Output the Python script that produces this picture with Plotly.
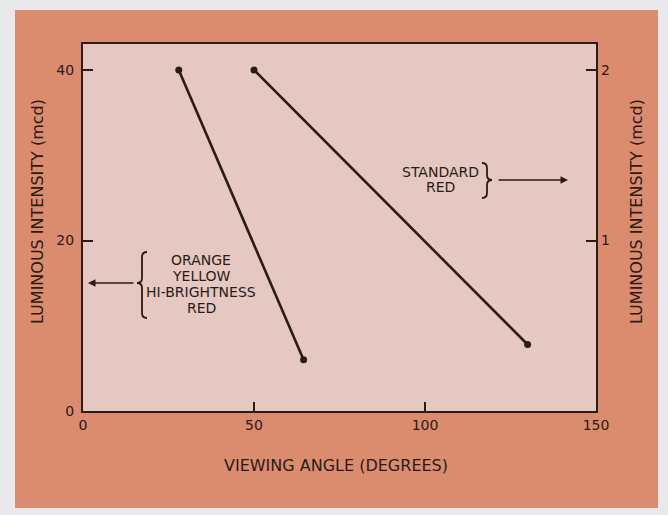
import plotly.graph_objects as go

# Viewing angle (degrees) against luminous intensity (mcd)
hb_angle = [28, 64.5]        # orange / yellow / hi-brightness red
hb_mcd = [40, 6]             # left axis
std_angle = [50, 130]        # standard red
std_mcd = [2.0, 0.39]        # right axis

x_ticks = [0, 50, 100, 150]
y_left_ticks = [0, 20, 40]
y_right_ticks = [1, 2]

hb_label = ["ORANGE", "YELLOW", "HI-BRIGHTNESS", "RED"]
std_label = ["STANDARD", "RED"]

INK = "#2a1b17"
ORANGE_BG = "#DB8C6F"
PANEL_BG = "#E6C8C2"
EDGE_BG = "#E9E9EB"
FONT = "DejaVu Sans"

W, H = 668, 515
L, R, T, B = 83, 72, 44, 104
PW, PH = W - L - R, H - T - B
X_MAX = 150
Y_MAX = 43.05
Y2_MAX = Y_MAX / 20.0


def paper(px, py):
    """Pixel position in the page -> paper coordinates."""
    return (px - L) / PW, (H - B - py) / PH


def brace_path(tip_x, tip_y, top_y, bot_y, width, facing):
    """Curly brace; facing=-1 points left '{', +1 points right '}'."""
    end_x = tip_x - facing * width
    body_x = tip_x - facing * width / 2.0
    r = 5
    pts = [
        ("M", [(end_x, top_y)]),
        ("Q", [(body_x, top_y), (body_x, top_y + r)]),
        ("L", [(body_x, tip_y - r)]),
        ("Q", [(body_x, tip_y), (tip_x, tip_y)]),
        ("Q", [(body_x, tip_y), (body_x, tip_y + r)]),
        ("L", [(body_x, bot_y - r)]),
        ("Q", [(body_x, bot_y), (end_x, bot_y)]),
    ]
    out = []
    for cmd, coords in pts:
        seg = " ".join("%.5f,%.5f" % paper(x, y) for x, y in coords)
        out.append(cmd + " " + seg)
    return " ".join(out)


fig = go.Figure()

fig.add_trace(go.Scatter(
    x=hb_angle, y=hb_mcd, mode="lines+markers",
    line=dict(color=INK, width=2.6),
    marker=dict(color=INK, size=7),
    showlegend=False, hoverinfo="skip",
))
fig.add_trace(go.Scatter(
    x=std_angle, y=std_mcd, mode="lines+markers", yaxis="y2",
    line=dict(color=INK, width=2.6),
    marker=dict(color=INK, size=7),
    showlegend=False, hoverinfo="skip",
))

ox0, oy0 = paper(15, 10)
ox1, oy1 = paper(658, 508)
shapes = [
    dict(type="rect", xref="paper", yref="paper", x0=ox0, x1=ox1, y0=oy1, y1=oy0,
         fillcolor=ORANGE_BG, line=dict(width=0), layer="below"),
    dict(type="rect", xref="paper", yref="paper", x0=0, x1=1, y0=0, y1=1,
         fillcolor=PANEL_BG, line=dict(width=0), layer="below"),
    dict(type="path", xref="paper", yref="paper",
         path=brace_path(137, 283, 252, 318, 10, -1),
         line=dict(color=INK, width=1.8)),
    dict(type="path", xref="paper", yref="paper",
         path=brace_path(492, 180, 163, 198, 10, 1),
         line=dict(color=INK, width=1.8)),
]

annotations = []
text_font = dict(family=FONT, size=14, color=INK)

# group labels inside the panel
for txt, py in zip(hb_label, [260, 276, 292, 308]):
    x, y = paper(201, py)
    annotations.append(dict(xref="paper", yref="paper", x=x, y=y, text=txt,
                            showarrow=False, font=text_font,
                            xanchor="center", yanchor="middle"))
for txt, py in zip(std_label, [172, 187]):
    x, y = paper(440, py)
    annotations.append(dict(xref="paper", yref="paper", x=x, y=y, text=txt,
                            showarrow=False, font=text_font,
                            xanchor="center", yanchor="middle"))

# arrows pointing to the axis each group is read from
hx, hy = paper(88, 283)
annotations.append(dict(xref="paper", yref="paper", x=hx, y=hy, text="",
                        showarrow=True, ax=47, ay=0, arrowhead=2, arrowsize=1,
                        arrowwidth=1.5, arrowcolor=INK))
hx, hy = paper(568, 180)
annotations.append(dict(xref="paper", yref="paper", x=hx, y=hy, text="",
                        showarrow=True, ax=-71, ay=0, arrowhead=2, arrowsize=1,
                        arrowwidth=1.5, arrowcolor=INK))

# axis titles
title_font = dict(family=FONT, size=16, color=INK)
x, y = paper(336, 466)
annotations.append(dict(xref="paper", yref="paper", x=x, y=y,
                        text="VIEWING ANGLE (DEGREES)", showarrow=False,
                        font=title_font, xanchor="center", yanchor="middle"))
x, y = paper(37, 212)
annotations.append(dict(xref="paper", yref="paper", x=x, y=y,
                        text="LUMINOUS INTENSITY (mcd)", showarrow=False,
                        textangle=-90, font=title_font,
                        xanchor="center", yanchor="middle"))
x, y = paper(636, 212)
annotations.append(dict(xref="paper", yref="paper", x=x, y=y,
                        text="LUMINOUS INTENSITY (mcd)", showarrow=False,
                        textangle=-90, font=title_font,
                        xanchor="center", yanchor="middle"))

tick_font = dict(family=FONT, size=14, color=INK)

fig.update_layout(
    width=W, height=H,
    margin=dict(l=L, r=R, t=T, b=B, pad=0),
    paper_bgcolor=EDGE_BG,
    plot_bgcolor="rgba(0,0,0,0)",
    shapes=shapes,
    annotations=annotations,
    xaxis=dict(range=[0, X_MAX], tickvals=x_ticks, ticks="inside", ticklen=9,
               tickwidth=1.5, tickcolor=INK, showline=True, linecolor=INK,
               linewidth=2, mirror=True, showgrid=False, zeroline=False,
               tickfont=tick_font, fixedrange=True),
    yaxis=dict(range=[0, Y_MAX], tickvals=y_left_ticks, ticks="inside", ticklen=10,
               tickwidth=1.5, tickcolor=INK, showline=True, linecolor=INK,
               linewidth=2, mirror=True, showgrid=False, zeroline=False,
               tickfont=tick_font, ticklabelstandoff=4, fixedrange=True),
    yaxis2=dict(range=[0, Y2_MAX], tickvals=y_right_ticks, ticks="inside",
                ticklen=10, tickwidth=1.5, tickcolor=INK, overlaying="y",
                side="right", showline=False, showgrid=False, zeroline=False,
                tickfont=tick_font, ticklabelstandoff=4, fixedrange=True),
)

fig.write_html("out.html")
